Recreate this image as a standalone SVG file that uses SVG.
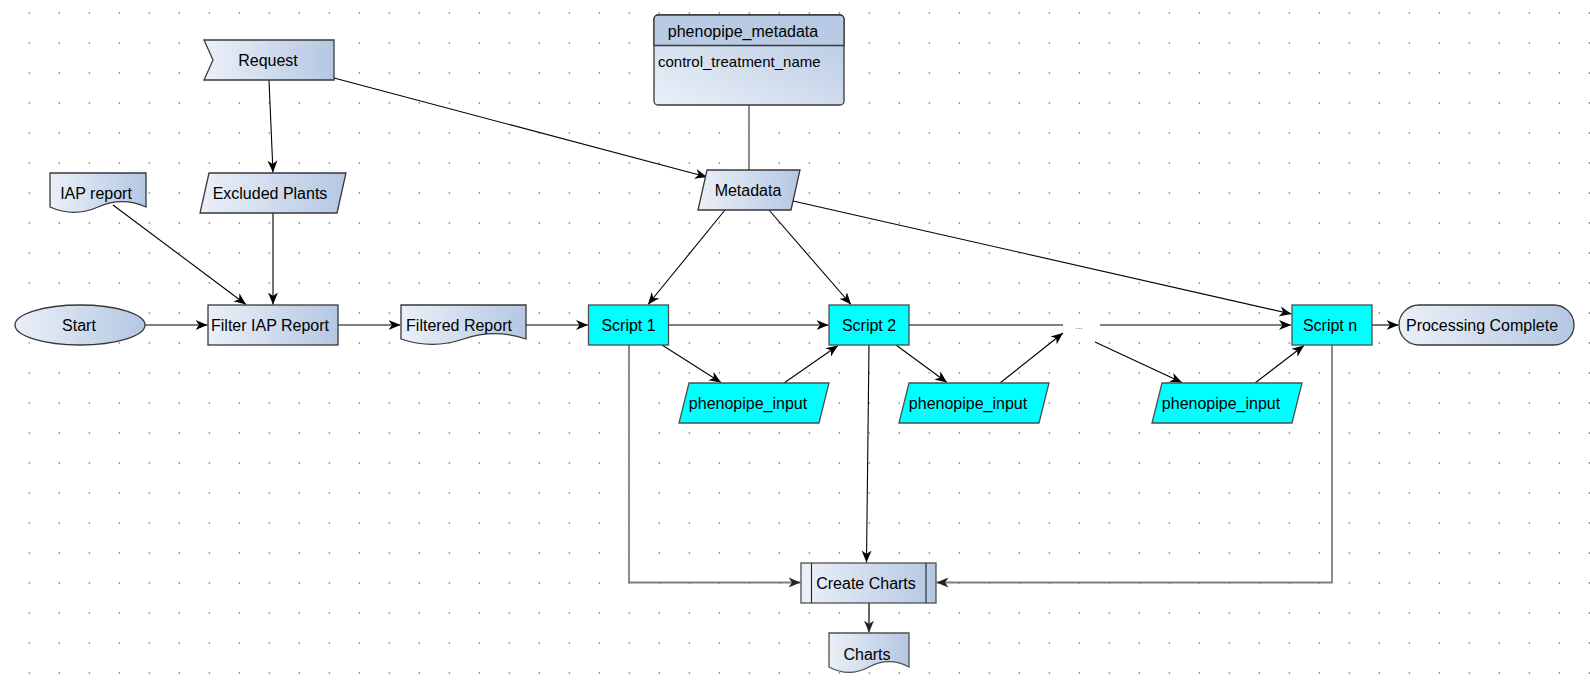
<svg xmlns="http://www.w3.org/2000/svg" width="1590" height="688" viewBox="0 0 1590 688">
<defs>
<pattern id="grid" x="0" y="0" width="30" height="30" patternUnits="userSpaceOnUse">
<circle cx="29.5" cy="13" r="1.1" fill="#a0a0a0"/>
</pattern>
<linearGradient id="blue" x1="0" y1="0" x2="1" y2="0">
<stop offset="0" stop-color="#ebf0f8"/>
<stop offset="1" stop-color="#b4c7e2"/>
</linearGradient>
<linearGradient id="blueDiag" x1="0" y1="1" x2="1" y2="0">
<stop offset="0" stop-color="#ebf0f8"/>
<stop offset="1" stop-color="#b4c7e2"/>
</linearGradient>
<marker id="arr" markerUnits="userSpaceOnUse" markerWidth="13" markerHeight="11" viewBox="0 0 13 11" refX="12" refY="5.5" orient="auto">
<path d="M0,0.5 L12,5.5 L0,10.5 L3.5,5.5 Z" fill="#000"/>
</marker>
<marker id="arrG" markerUnits="userSpaceOnUse" markerWidth="13" markerHeight="11" viewBox="0 0 13 11" refX="12" refY="5.5" orient="auto">
<path d="M0,0.5 L12,5.5 L0,10.5 L3.5,5.5 Z" fill="#222"/>
</marker>
</defs>
<style>
.n{fill:url(#blue);stroke:#383838;stroke-width:1.3}
.c{fill:#00ffff;stroke:#4d4d4d;stroke-width:1.3}
.t{font-family:"Liberation Sans",Arial,sans-serif;font-size:16px;fill:#000;text-anchor:middle}
.e{fill:none;stroke:#000;stroke-width:1.1;marker-end:url(#arr)}
.g{fill:none;stroke:#7f7f7f;stroke-width:1.8;marker-end:url(#arrG)}
</style>
<rect width="1590" height="688" fill="#fff"/>
<rect width="1590" height="688" fill="url(#grid)"/>

<g id="connectors">
<line class="e" x1="269" y1="80" x2="273" y2="172.5"/>
<line class="e" x1="334" y1="78" x2="707" y2="177"/>
<line class="e" x1="113" y1="205" x2="246" y2="304.5"/>
<line class="e" x1="273" y1="213" x2="273" y2="304.5"/>
<line class="e" x1="145" y1="325" x2="207.5" y2="325"/>
<line class="e" x1="338" y1="325" x2="400.5" y2="325"/>
<line class="e" x1="526" y1="325" x2="588" y2="325"/>
<line class="e" x1="668.5" y1="325" x2="828.5" y2="325"/>
<line x1="909" y1="325" x2="1063" y2="325" stroke="#000" stroke-width="1.1"/>
<line class="e" x1="1100" y1="325" x2="1291" y2="325"/>
<line class="e" x1="1372" y1="325" x2="1398.5" y2="325"/>
<line class="e" x1="725" y1="210" x2="648" y2="304.5"/>
<line class="e" x1="769" y1="210" x2="851" y2="304.5"/>
<line class="e" x1="793" y1="201" x2="1291.5" y2="314"/>
<line class="e" x1="662" y1="345" x2="721" y2="382.5"/>
<line class="e" x1="784" y1="383" x2="838" y2="345.5"/>
<line class="e" x1="896" y1="345" x2="947" y2="382.5"/>
<line class="e" x1="1000" y1="383" x2="1063" y2="333"/>
<line class="e" x1="1095" y1="342" x2="1182" y2="382.5"/>
<line class="e" x1="1255" y1="383" x2="1304" y2="345.5"/>
<polyline class="g" points="629,345 629,582.5 800.5,582.5"/>
<line class="e" x1="869" y1="345" x2="866.5" y2="562.5"/>
<polyline class="g" points="1332,345 1332,582.5 936.5,582.5"/>
<line class="g" x1="869" y1="603" x2="869" y2="632.5" style="stroke:#555"/>
<line x1="749" y1="105" x2="749" y2="170" stroke="#7f7f7f" stroke-width="1.8"/>
</g>

<g id="request">
<polygon class="n" points="204,40 334,40 334,80 204,80 213,60"/>
<text class="t" x="268" y="66">Request</text>
</g>
<g id="phenopipe_metadata">
<rect x="654" y="15" width="190" height="90" rx="4" fill="url(#blueDiag)" stroke="#383838" stroke-width="1.3"/>
<path d="M654,45.5 V19 A4,4 0 0 1 658,15 H840 A4,4 0 0 1 844,19 V45.5 Z" fill="#b9cbe4" stroke="#383838" stroke-width="1.3"/>
<text class="t" x="743" y="37">phenopipe_metadata</text>
<text x="658" y="67" style="font-family:'Liberation Sans',Arial,sans-serif;font-size:15px;fill:#000">control_treatment_name</text>
</g>
<g id="iap_report">
<path class="n" d="M50,173 H146 V207 Q122,196.2 98,207 Q74,217.8 50,207 Z"/>
<text class="t" x="96" y="198.5">IAP report</text>
</g>
<g id="excluded_plants">
<polygon class="n" points="209,173 346,173 337,213 200,213"/>
<text class="t" x="270" y="198.5">Excluded Plants</text>
</g>
<g id="metadata">
<polygon class="n" points="707,170 800,170 791,210 698,210"/>
<text class="t" x="748" y="196">Metadata</text>
</g>
<g id="start">
<ellipse class="n" cx="80" cy="325" rx="65" ry="20"/>
<text class="t" x="79" y="331">Start</text>
</g>
<g id="filter_iap_report">
<rect class="n" x="208" y="305" width="130" height="40"/>
<text class="t" x="270" y="331">Filter IAP Report</text>
</g>
<g id="filtered_report">
<path class="n" d="M401,305 H526 V339 Q494.75,328.2 463.5,339 Q432.25,349.8 401,339 Z"/>
<text class="t" x="459" y="331">Filtered Report</text>
</g>
<g id="script1">
<rect class="c" x="588.5" y="305" width="80" height="40"/>
<text class="t" x="628.5" y="331">Script 1</text>
</g>
<g id="script2">
<rect class="c" x="829" y="305" width="80" height="40"/>
<text class="t" x="869" y="331">Script 2</text>
</g>
<g id="dots">
<text x="1079" y="329" style="font-family:'Liberation Sans',Arial,sans-serif;font-size:9px;fill:#666;text-anchor:middle">...</text>
</g>
<g id="script_n">
<rect class="c" x="1292" y="305" width="80" height="40"/>
<text class="t" x="1330" y="331">Script n</text>
</g>
<g id="processing_complete">
<rect class="n" x="1399" y="305" width="175" height="40" rx="20"/>
<text class="t" x="1482" y="331">Processing Complete</text>
</g>
<g id="phenopipe_input_1">
<polygon class="c" points="689,383 829,383 819,423 679,423"/>
<text class="t" x="748" y="409">phenopipe_input</text>
</g>
<g id="phenopipe_input_2">
<polygon class="c" points="909,383 1049,383 1039,423 899,423"/>
<text class="t" x="968" y="409">phenopipe_input</text>
</g>
<g id="phenopipe_input_3">
<polygon class="c" points="1162,383 1302,383 1292,423 1152,423"/>
<text class="t" x="1221" y="409">phenopipe_input</text>
</g>
<g id="create_charts">
<rect class="n" x="801" y="563" width="135" height="40" style="stroke:#505050"/>
<line x1="811.5" y1="563" x2="811.5" y2="603" stroke="#222" stroke-width="1.1"/>
<line x1="926" y1="563" x2="926" y2="603" stroke="#222" stroke-width="1.1"/>
<text class="t" x="866" y="589">Create Charts</text>
</g>
<g id="charts">
<path class="n" d="M829,633 H909 V667 Q889,656.2 869,667 Q849,677.8 829,667 Z" style="stroke:#505050"/>
<text class="t" x="867" y="659.5">Charts</text>
</g>
</svg>
